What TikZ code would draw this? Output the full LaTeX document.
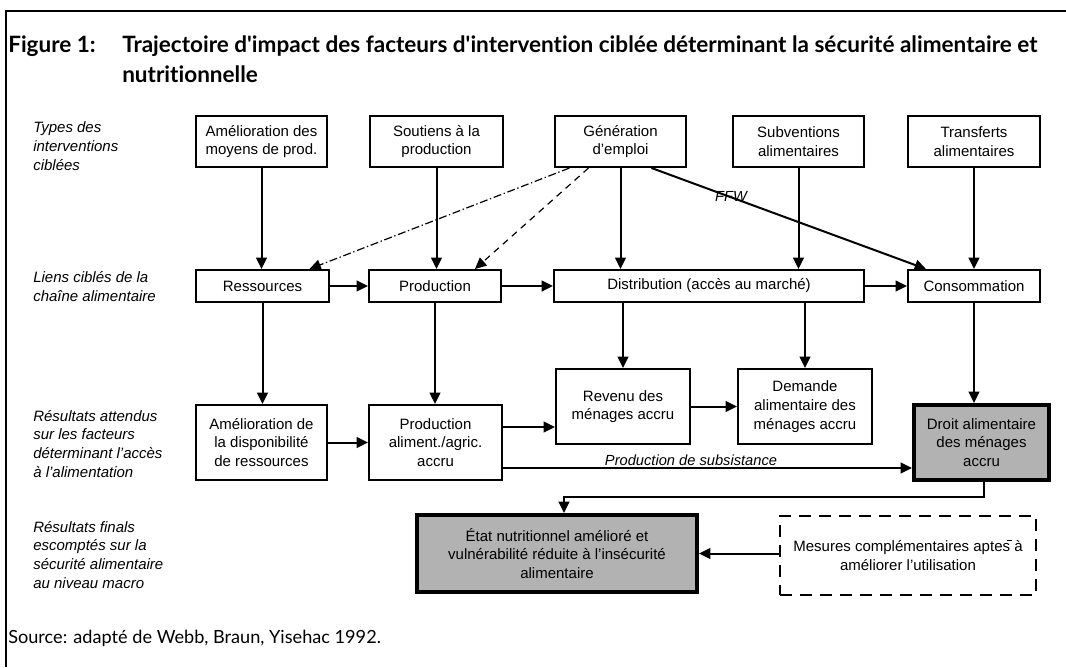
\documentclass[tikz,border=0pt]{standalone}
\usepackage{fontspec}
\setmainfont{Liberation Sans}
\newfontfamily\titlefont[Ligatures={NoCommon}]{Lato}
\usetikzlibrary{arrows.meta,calc}
\definecolor{boxgray}{RGB}{178,178,178}
\newcommand\DiagBox[7]{\node[#7, minimum width={(#4-#2)*0.75pt}, minimum height={(#5-#3)*0.75pt}] (#1) at ({(#2+#4)/2},{(#3+#5)/2}) {#6};}
\tikzset{
 bx/.style={draw, line width=1.5pt, fill=white, align=center, inner sep=1pt, font=\fontsize{11.25pt}{14pt}\selectfont},
 bxthick/.style={bx, line width=3pt, fill=boxgray},
 bxdash/.style={bx, line width=2pt, dash pattern=on 9pt off 6pt},
 arr/.style={-{Triangle[length=8.5pt,width=8pt]}, line width=1.5pt},
 lbl/.style={font=\fontsize{11.25pt}{14.2pt}\selectfont\itshape, align=left, anchor=west, inner sep=0pt},
 ttl/.style={font=\titlefont\bfseries\fontsize{16.9pt}{19pt}\selectfont, anchor=base west, inner sep=0pt},
 src/.style={font=\titlefont\fontsize{13.6pt}{16pt}\selectfont, anchor=base west, inner sep=0pt},
}
\begin{document}
\begin{tikzpicture}[x=0.75pt,y=-0.75pt]
\useasboundingbox (0,0) rectangle (1066,667);
% frame
\draw[line width=1.5pt] (6,667) -- (6,11) -- (1066,11);
% title
\node[ttl] (fig) at (8,53) {Figure 1:};
\node[ttl] (t1) at (122,53) {Trajectoire d\textquotesingle impact des facteurs d\textquotesingle intervention ciblée déterminant la sécurité alimentaire et};
\node[ttl] (t2) at (122,82) {nutritionnelle};
% source
\node[src] (source) at (8,643) {Source: adapté de Webb, Braun, Yisehac 1992.};
% left labels
\node[lbl] (l1) at (33,146) {Types des\\interventions\\ciblées};
\node[lbl] (l2) at (33,287) {Liens ciblés de la\\chaîne alimentaire};
\node[lbl] (l3) at (33,444) {Résultats attendus\\sur les facteurs\\déterminant l’accès\\à l’alimentation};
\node[lbl] (l4) at (33,555) {Résultats finals\\escomptés sur la\\sécurité alimentaire\\au niveau macro};
% boxes
\DiagBox{amel}{196}{116}{327}{167}{Amélioration des\\moyens de prod.}{bx}
\DiagBox{sout}{370}{116}{503}{167}{Soutiens à la\\production}{bx}
\DiagBox{gen}{555}{116}{686}{167}{Génération\\d’emploi}{bx}
\DiagBox{subv}{733}{116}{864}{167}{Subventions\\alimentaires}{bx}
\DiagBox{trans}{908}{116}{1040}{167}{Transferts\\alimentaires}{bx}
\DiagBox{res}{196}{270}{329}{302}{Ressources}{bx}
\DiagBox{prod}{369}{270}{501}{302}{Production}{bx}
\DiagBox{dist}{554}{270}{864}{302}{Distribution (accès au marché)}{bx}
\DiagBox{cons}{908}{270}{1040}{302}{Consommation}{bx}
\DiagBox{adisp}{196}{405}{327}{480}{Amélioration de\\la disponibilité\\de ressources}{bx}
\DiagBox{palim}{369}{405}{502}{480}{Production\\aliment./agric.\\accru}{bx}
\DiagBox{rev}{556}{369}{690}{444}{Revenu des\\ménages accru}{bx}
\DiagBox{dem}{738}{369}{872}{444}{Demande\\alimentaire des\\ménages accru}{bx}
\DiagBox{droit}{914}{405}{1049}{480}{Droit alimentaire\\des ménages\\accru}{bxthick}
\DiagBox{etat}{417}{515}{697}{592}{État nutritionnel amélioré et\\vulnérabilité réduite à l’insécurité\\alimentaire}{bxthick}
\DiagBox{mes}{780}{516}{1036}{595}{Mesures complémentaires aptes à\\améliorer l’utilisation}{bxdash}
\draw[line width=0.6pt] (1007,540) -- (1012,540);
% top to middle
\draw[arr] (amel.south) -- (amel.south |- res.north);
\draw[arr] (sout.south) -- (sout.south |- prod.north);
\draw[arr] (gen.south) -- (gen.south |- dist.north);
\draw[arr] (subv.south) -- (subv.south |- dist.north);
\draw[arr] (trans.south) -- (trans.south |- cons.north);
\draw[arr, line width=0.9pt, dash pattern=on 6pt off 2pt on 1pt off 2pt] ([xshift=-38.25pt]gen.south) -- ([xshift=35.25pt]res.north);
\draw[arr, line width=0.9pt, dash pattern=on 5pt off 4pt] ([xshift=-24pt]gen.south) -- ([xshift=30pt]prod.north);
\draw[arr] ([xshift=23.25pt]gen.south) -- node[pos=0.29, font=\fontsize{11pt}{13pt}\selectfont\itshape, inner sep=0pt, anchor=south, yshift=-4pt] (ffw) {FFW} ([xshift=-36pt]cons.north);
% middle row
\draw[arr] (res.east) -- (prod.west);
\draw[arr] (prod.east) -- (dist.west);
\draw[arr] (dist.east) -- (cons.west);
% middle to results
\draw[arr] (res.south) -- (res.south |- adisp.north);
\draw[arr] (prod.south) -- (prod.south |- palim.north);
\draw[arr] (dist.south -| rev.north) -- (rev.north);
\draw[arr] (dist.south -| dem.north) -- (dem.north);
\draw[arr] (cons.south) -- (cons.south |- droit.north);
% results row
\coordinate (yrev) at (0,427);
\coordinate (ysub) at (0,468);
\draw[arr] (adisp.east) -- (adisp.east -| palim.west);
\draw[arr] (palim.east |- yrev) -- (rev.west |- yrev);
\draw[arr] (rev.east) -- (rev.east -| dem.west);
\draw[arr] (palim.east |- ysub) -- (droit.west |- ysub);
\node[font=\fontsize{11pt}{13pt}\selectfont\itshape, anchor=base, inner sep=0pt] (subs) at (691,465) {Production de subsistance};
% to final
\coordinate (bend) at (564,497);
\draw[arr] ([xshift=2pt]droit.south) |- (bend) -- (bend |- etat.north);
\draw[arr] (etat.east -| mes.west) -- (etat.east);
\end{tikzpicture}
\end{document}
